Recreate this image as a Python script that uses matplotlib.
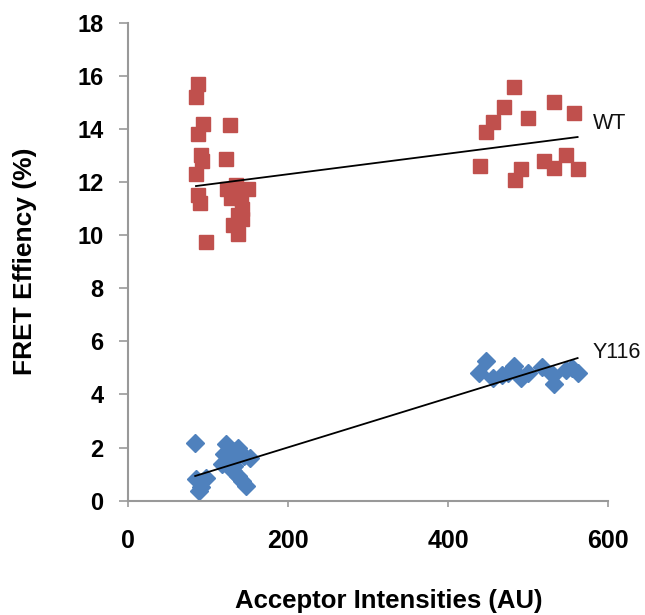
import numpy as np
import matplotlib
matplotlib.use("Agg")
import matplotlib.pyplot as plt

plt.rcParams['font.family'] = ['Liberation Sans', 'DejaVu Sans']

wt_x = [88, 85, 94, 88, 127, 91, 93, 85, 122, 87, 90, 124, 135, 150, 129, 137, 131, 143, 137, 97, 141, 143,
        483, 470, 456, 447, 500, 532, 557, 440, 491, 484, 520, 532, 547, 562]
wt_y = [15.7, 15.2, 14.2, 13.8, 14.15, 13.0, 12.8, 12.3, 12.85, 11.5, 11.2, 11.75, 11.9, 11.75, 11.4, 10.75, 10.4, 10.6, 10.05, 9.75, 11.4, 11.0,
        15.56, 14.81, 14.25, 13.9, 14.4, 15.0, 14.6, 12.59, 12.5, 12.06, 12.78, 12.52, 13.0, 12.5]

y116_x = [84, 85, 91, 89, 97, 122, 131, 137, 120, 127, 145, 152, 118, 131, 137, 143, 147, 133,
          447, 439, 456, 468, 483, 491, 500, 475, 518, 531, 532, 547, 562, 555]
y116_y = [2.19, 0.81, 0.5, 0.38, 0.87, 2.12, 1.87, 2.0, 1.75, 1.5, 1.69, 1.62, 1.37, 1.12, 0.94, 0.75, 0.56, 1.31,
          5.27, 4.81, 4.62, 4.75, 5.06, 4.62, 4.81, 4.8, 5.03, 4.75, 4.4, 4.94, 4.81, 5.0]

# linear trendlines (slope, intercept)
wt_trend = (0.00387, 11.52)
y116_trend = (0.00929, 0.15)

series_labels = ["WT", "Y116"]
label_pos = [(581, 14.2), (581, 5.58)]
x_ticks = [0, 200, 400, 600]
y_ticks = [0, 2, 4, 6, 8, 10, 12, 14, 16, 18]

fig = plt.figure(figsize=(6.45, 6.15), dpi=100)
ax = fig.add_axes([128 / 645, 1 - 500.7 / 615, 480 / 645, 478 / 615])

red = '#C0504D'
blue = '#4F81BD'
gray = '#999999'
ax.plot(wt_x, wt_y, linestyle='none', marker='s', markersize=10.5, color=red, markeredgecolor=red)
ax.plot(y116_x, y116_y, linestyle='none', marker='D', markersize=9, color=blue, markeredgecolor=blue)

for xs, (m, b) in [(wt_x, wt_trend), (y116_x, y116_trend)]:
    xx = np.array([min(xs), max(xs)])
    ax.plot(xx, m * xx + b, color='black', linewidth=1.3)

for lab, (lx, ly) in zip(series_labels, label_pos):
    ax.text(lx, ly, lab, fontsize=15.5, va='center', ha='left', color='#111111')

ax.set_xlim(0, 600)
ax.set_ylim(0, 18)
ax.set_xticks(x_ticks)
ax.set_yticks(y_ticks)
for s in ['top', 'right']:
    ax.spines[s].set_visible(False)
for s in ['left', 'bottom']:
    ax.spines[s].set_color(gray)
    ax.spines[s].set_linewidth(1.5)
ax.tick_params(axis='y', direction='out', length=6.5, color=gray, width=1.2, labelsize=17, pad=11)
ax.tick_params(axis='x', direction='out', length=4.5, color=gray, width=1.2, labelsize=18, pad=16)
for t in ax.get_xticklabels() + ax.get_yticklabels():
    t.set_fontweight('bold')

fig.text(25 / 645, 1 - 261 / 615, 'FRET Effiency (%)', fontsize=19, fontweight='bold',
         rotation=90, ha='center', va='center')
fig.text(389 / 645, 1 - 608 / 615, 'Acceptor Intensities (AU)', fontsize=18.5, fontweight='bold',
         ha='center', va='baseline')

fig.savefig('out.png', dpi=100)
